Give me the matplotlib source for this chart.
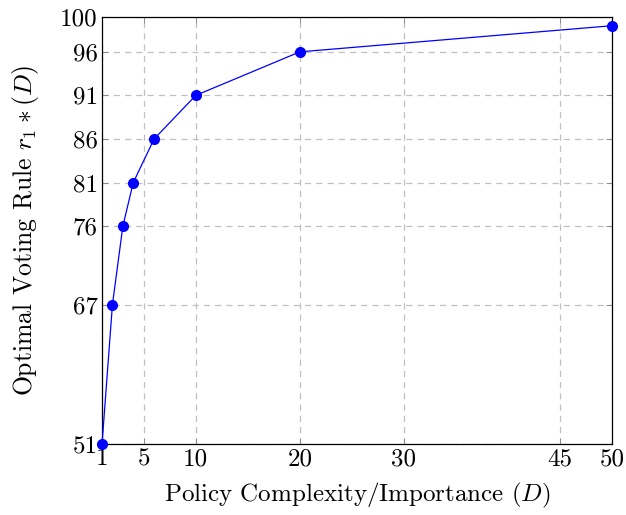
import matplotlib
matplotlib.use("Agg")
import matplotlib.pyplot as plt

plt.rcParams['font.family'] = 'serif'
plt.rcParams['font.serif'] = ['cmr10']
plt.rcParams['mathtext.fontset'] = 'cm'
plt.rcParams['axes.unicode_minus'] = False

# data
complexity = [1, 2, 3, 4, 6, 10, 20, 50]
voting_rule = [51, 67, 76, 81, 86, 91, 96, 99]
xticks = [1, 5, 10, 20, 30, 45, 50]
yticks = [51, 67, 76, 81, 86, 91, 96, 100]

fig = plt.figure(figsize=(6.26, 5.15), dpi=100)
ax = fig.add_axes([0.163, 0.138, 0.815, 0.829])

ax.plot(complexity, voting_rule, color='blue', lw=0.9, marker='o', ms=7,
        clip_on=False, zorder=3)

ax.set_xlim(1, 50)
ax.set_ylim(51, 100)
ax.set_xticks(xticks)
ax.set_yticks(yticks)
ax.tick_params(direction='in', length=4, width=0.6, color='#808080',
               labelsize=18, top=True, right=True, pad=3)
ax.grid(True, color='#c0c0c0', ls=(0, (5, 4)), lw=0.9)
ax.set_axisbelow(True)
for s in ax.spines.values():
    s.set_linewidth(0.9)

ax.set_xlabel(r'Policy Complexity/Importance $(D)$', fontsize=18, labelpad=8)
ax.set_ylabel(r'Optimal Voting Rule $r_1*(D)$', fontsize=18.5, labelpad=14)

fig.savefig('out.png', dpi=100)
